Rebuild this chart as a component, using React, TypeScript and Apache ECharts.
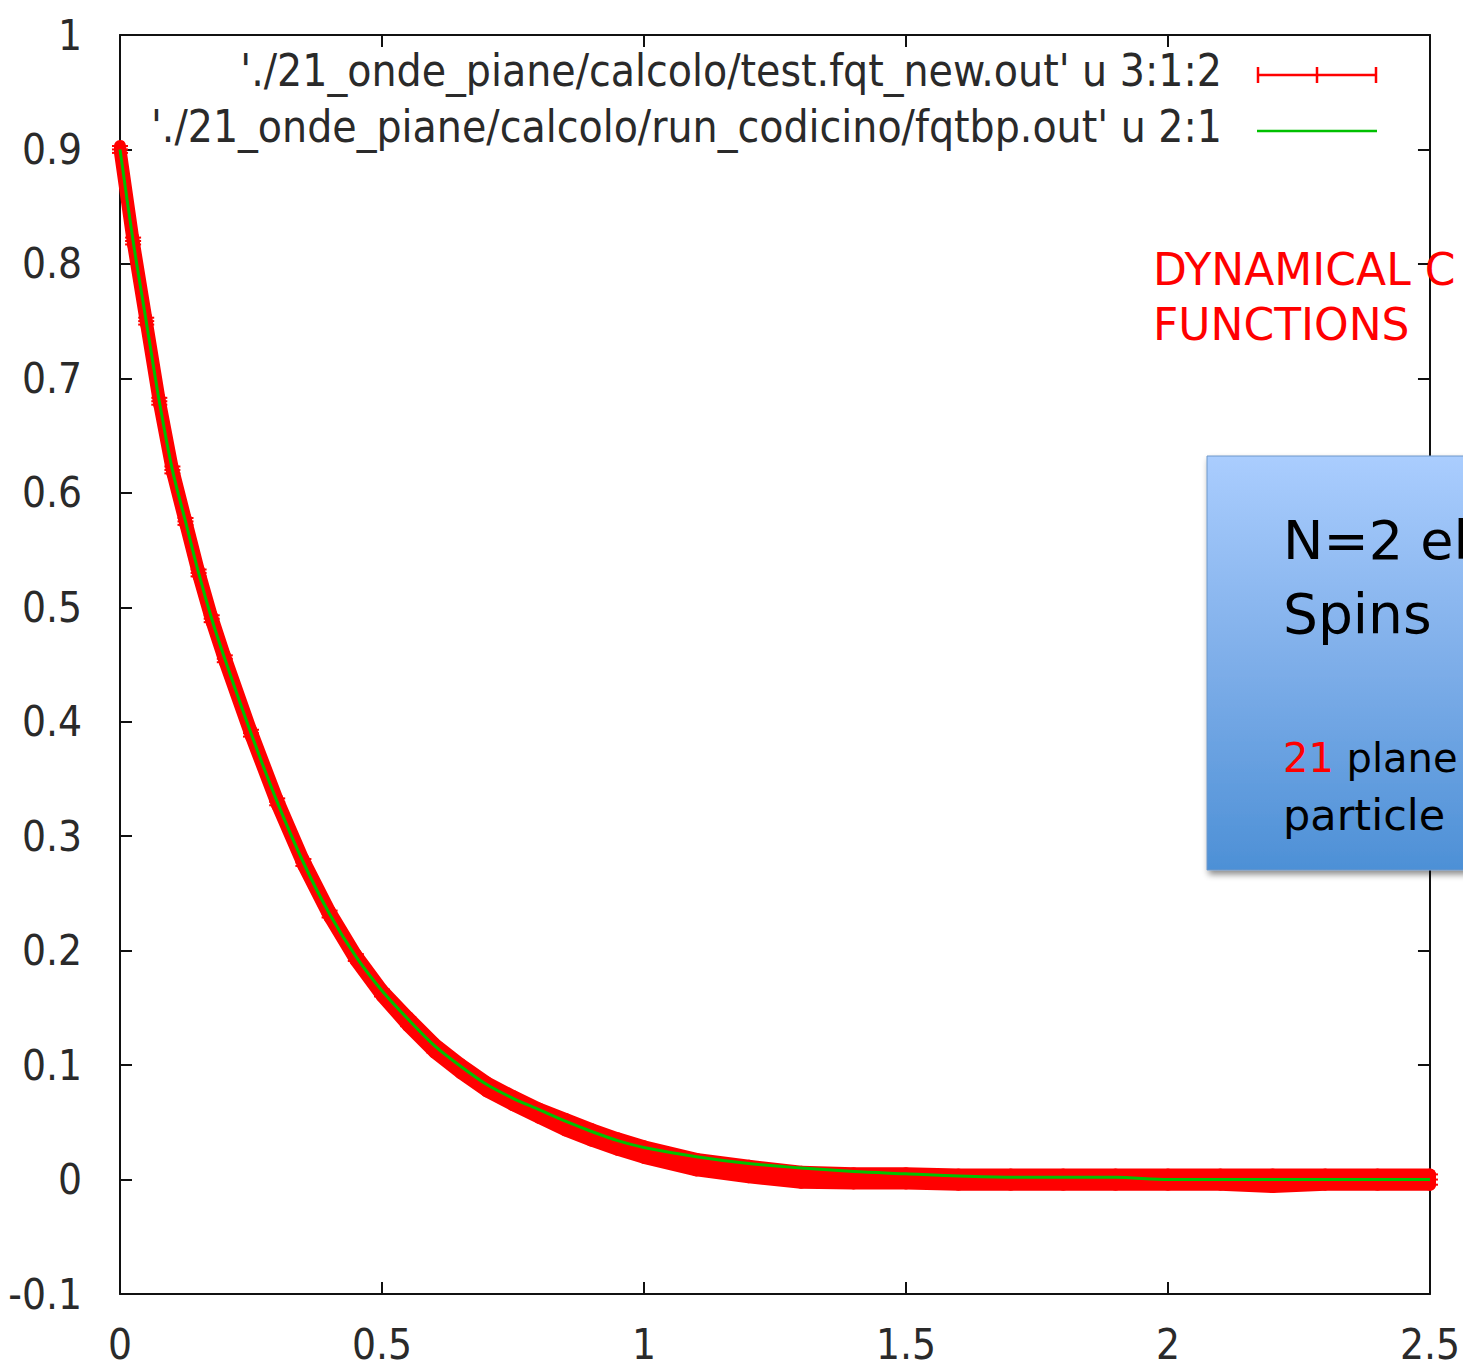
import React, { useEffect, useRef } from "react";
import * as echarts from "echarts";

// ---- data ----
const xTickValues = [0, 0.5, 1, 1.5, 2, 2.5];

const greenX = [0, 0.025, 0.05, 0.075, 0.1, 0.125, 0.15, 0.175, 0.2, 0.25, 0.3, 0.35, 0.4, 0.45, 0.5, 0.55, 0.6, 0.65, 0.7, 0.75, 0.8, 0.85, 0.9, 0.95, 1.0, 1.1, 1.2, 1.3, 1.4, 1.5, 1.6, 1.7, 1.8, 1.9, 2.0, 2.1, 2.2, 2.3, 2.4, 2.5];
const greenY = [0.9, 0.82, 0.75, 0.68, 0.62, 0.575, 0.53, 0.49, 0.455, 0.39, 0.33, 0.277, 0.232, 0.195, 0.165, 0.14, 0.117, 0.099, 0.083, 0.071, 0.061, 0.051, 0.042, 0.034, 0.028, 0.02, 0.014, 0.01, 0.007, 0.005, 0.003, 0.002, 0.002, 0.002, 0.0, 0.0, 0.0, 0.0, 0.0, 0.0];

const redX = [0, 0.025, 0.05, 0.075, 0.1, 0.125, 0.15, 0.175, 0.2, 0.25, 0.3, 0.35, 0.4, 0.45, 0.5, 0.55, 0.6, 0.65, 0.7, 0.75, 0.8, 0.85, 0.9, 0.95, 1.0, 1.1, 1.2, 1.3, 1.4, 1.5, 1.6, 1.7, 1.8, 1.9, 2.0, 2.1, 2.2, 2.3, 2.4, 2.5];
const redY = [0.9, 0.82, 0.75, 0.68, 0.62, 0.575, 0.53, 0.49, 0.455, 0.39, 0.33, 0.277, 0.232, 0.194, 0.163, 0.138, 0.115, 0.097, 0.081, 0.069, 0.058, 0.048, 0.039, 0.031, 0.024, 0.013, 0.007, 0.002, 0.001, 0.001, 0.0, 0.0, 0.0, 0.0, 0.0, 0.0, -0.001, 0.0, 0.0, 0.0];
const redErr = [0.003, 0.003, 0.003, 0.003, 0.003, 0.003, 0.003, 0.003, 0.003, 0.003, 0.003, 0.003, 0.003, 0.003, 0.003, 0.004, 0.004, 0.004, 0.004, 0.004, 0.004, 0.005, 0.005, 0.005, 0.005, 0.005, 0.005, 0.0048, 0.0045, 0.0045, 0.0045, 0.0045, 0.0045, 0.0045, 0.0045, 0.0045, 0.0055, 0.0045, 0.0045, 0.0045];

const legendLabels = [
  "'./21_onde_piane/calcolo/test.fqt_new.out' u 3:1:2",
  "'./21_onde_piane/calcolo/run_codicino/fqtbp.out' u 2:1",
];

const RED = "#ff0000";
const GREEN = "#00c000";
const TICK_FONT = '"DejaVu Sans Condensed", "DejaVu Sans", sans-serif';
const NOTE_FONT = '"DejaVu Sans", sans-serif';
const TEXT_COLOR = "#2a2a2a";

export default function App() {
  const ref = useRef<HTMLDivElement>(null);

  useEffect(() => {
    if (!ref.current) return;
    const chart = echarts.init(ref.current, undefined, { renderer: "svg" });

    const fmt = (v: number) => String(parseFloat(v.toFixed(2)));
    const axisLine = { show: true, onZero: false, lineStyle: { color: "#111", width: 2 } };
    const axisTick = { show: true, inside: true, length: 12, lineStyle: { color: "#111", width: 2 } };

    const redData = redX.map((x, i) => [x, redY[i], redErr[i]]);

    const option: any = {
      animation: false,
      backgroundColor: "#ffffff",
      grid: { left: 120, right: 33, top: 35, bottom: 73, containLabel: false },
      xAxis: [
        {
          type: "value",
          min: 0,
          max: 2.5,
          interval: 0.5,
          position: "bottom",
          axisLine,
          axisTick,
          splitLine: { show: false },
          axisLabel: {
            fontSize: 42,
            color: TEXT_COLOR,
            fontFamily: TICK_FONT,
            margin: 29,
            formatter: fmt,
            showMinLabel: true,
            showMaxLabel: true,
          },
        },
        {
          type: "value",
          min: 0,
          max: 2.5,
          interval: 0.5,
          position: "top",
          axisLine,
          axisTick,
          splitLine: { show: false },
          axisLabel: { show: false },
        },
      ],
      yAxis: [
        {
          type: "value",
          min: -0.1,
          max: 1,
          interval: 0.1,
          position: "left",
          axisLine,
          axisTick,
          splitLine: { show: false },
          axisLabel: {
            fontSize: 42,
            color: TEXT_COLOR,
            fontFamily: TICK_FONT,
            margin: 38,
            padding: [0, 0, 9, 0],
            formatter: fmt,
          },
        },
        {
          type: "value",
          min: -0.1,
          max: 1,
          interval: 0.1,
          position: "right",
          axisLine,
          axisTick,
          splitLine: { show: false },
          axisLabel: { show: false },
        },
      ],
      series: [
        {
          name: legendLabels[0],
          type: "custom",
          xAxisIndex: 0,
          yAxisIndex: 0,
          z: 2,
          encode: { x: 0, y: 1 },
          data: redData,
          renderItem: (params: any, api: any) => {
            const i = params.dataIndex;
            const x0 = api.value(0);
            const y0 = api.value(1);
            const e0 = api.value(2);
            const j = i < redX.length - 1 ? i + 1 : i;
            const x1 = redX[j];
            const y1 = redY[j];
            const e1 = redErr[j];
            const a = api.coord([x0, y0 + e0]);
            const b = api.coord([x1, y1 + e1]);
            const c = api.coord([x1, y1 - e1]);
            const d = api.coord([x0, y0 - e0]);
            const p = api.coord([x0, y0]);
            const top = api.coord([x0, y0 + e0]);
            const bot = api.coord([x0, y0 - e0]);
            return {
              type: "group",
              children: [
                {
                  type: "polygon",
                  shape: { points: [a, b, c, d] },
                  style: { fill: RED, stroke: RED, lineWidth: 12, lineJoin: "round" },
                },
                // error bar with caps
                {
                  type: "line",
                  shape: { x1: top[0], y1: top[1], x2: bot[0], y2: bot[1] },
                  style: { stroke: RED, lineWidth: 2 },
                },
                {
                  type: "line",
                  shape: { x1: top[0] - 8, y1: top[1], x2: top[0] + 8, y2: top[1] },
                  style: { stroke: RED, lineWidth: 2 },
                },
                {
                  type: "line",
                  shape: { x1: bot[0] - 8, y1: bot[1], x2: bot[0] + 8, y2: bot[1] },
                  style: { stroke: RED, lineWidth: 2 },
                },
                // point marker "+"
                {
                  type: "line",
                  shape: { x1: p[0] - 8, y1: p[1], x2: p[0] + 8, y2: p[1] },
                  style: { stroke: RED, lineWidth: 2 },
                },
                {
                  type: "line",
                  shape: { x1: p[0], y1: p[1] - 8, x2: p[0], y2: p[1] + 8 },
                  style: { stroke: RED, lineWidth: 2 },
                },
              ],
            };
          },
        },
        {
          name: legendLabels[1],
          type: "line",
          xAxisIndex: 0,
          yAxisIndex: 0,
          z: 3,
          data: greenX.map((x, i) => [x, greenY[i]]),
          showSymbol: false,
          symbol: "none",
          smooth: 0.3,
          lineStyle: { color: GREEN, width: 3 },
        },
      ],
      graphic: [
        // legend (gnuplot style: right-aligned text, sample at right)
        {
          type: "text",
          z: 10,
          style: {
            x: 1222,
            y: 70,
            text: legendLabels[0],
            align: "right",
            verticalAlign: "middle",
            fontSize: 44,
            fontFamily: TICK_FONT,
            fill: TEXT_COLOR,
          },
        },
        {
          type: "text",
          z: 10,
          style: {
            x: 1222,
            y: 126,
            text: legendLabels[1],
            align: "right",
            verticalAlign: "middle",
            fontSize: 44,
            fontFamily: TICK_FONT,
            fill: TEXT_COLOR,
          },
        },
        { type: "line", z: 10, shape: { x1: 1257, y1: 75, x2: 1377, y2: 75 }, style: { stroke: RED, lineWidth: 2.5 } },
        { type: "line", z: 10, shape: { x1: 1258, y1: 67, x2: 1258, y2: 83 }, style: { stroke: RED, lineWidth: 2.5 } },
        { type: "line", z: 10, shape: { x1: 1317, y1: 67, x2: 1317, y2: 83 }, style: { stroke: RED, lineWidth: 2.5 } },
        { type: "line", z: 10, shape: { x1: 1376, y1: 67, x2: 1376, y2: 83 }, style: { stroke: RED, lineWidth: 2.5 } },
        { type: "line", z: 10, shape: { x1: 1257, y1: 131, x2: 1377, y2: 131 }, style: { stroke: GREEN, lineWidth: 2.5 } },
        // red annotation
        {
          type: "text",
          z: 10,
          style: {
            x: 1153,
            y: 291,
            text: "DYNAMICAL C",
            verticalAlign: "bottom",
            fontSize: 44,
            fontFamily: NOTE_FONT,
            fill: RED,
          },
        },
        {
          type: "text",
          z: 10,
          style: {
            x: 1153,
            y: 346,
            text: "FUNCTIONS",
            verticalAlign: "bottom",
            fontSize: 44,
            fontFamily: NOTE_FONT,
            fill: RED,
          },
        },
        // blue box
        {
          type: "rect",
          z: 20,
          shape: { x: 1207, y: 456, width: 300, height: 414 },
          style: {
            fill: new echarts.graphic.LinearGradient(0, 0, 0, 1, [
              { offset: 0, color: "#aacdfe" },
              { offset: 0.5, color: "#7eaee9" },
              { offset: 1, color: "#4d90d6" },
            ]),
            stroke: "#6f98c9",
            lineWidth: 1,
            shadowBlur: 6,
            shadowOffsetX: 2,
            shadowOffsetY: 4,
            shadowColor: "rgba(0,0,0,0.45)",
          },
        },
        {
          type: "text",
          z: 21,
          style: {
            x: 1283,
            y: 540,
            text: "N=2 el",
            verticalAlign: "middle",
            fontSize: 54,
            fontFamily: NOTE_FONT,
            fill: "#000",
          },
        },
        {
          type: "text",
          z: 21,
          style: {
            x: 1283,
            y: 614,
            text: "Spins",
            verticalAlign: "middle",
            fontSize: 55,
            fontFamily: NOTE_FONT,
            fill: "#000",
          },
        },
        {
          type: "text",
          z: 21,
          style: {
            x: 1283,
            y: 758,
            text: "{r|21} plane",
            verticalAlign: "middle",
            fontSize: 40,
            fontFamily: NOTE_FONT,
            fill: "#000",
            rich: {
              r: { fill: RED, fontSize: 40, fontFamily: NOTE_FONT },
            },
          },
        },
        {
          type: "text",
          z: 21,
          style: {
            x: 1283,
            y: 815,
            text: "particle",
            verticalAlign: "middle",
            fontSize: 43,
            fontFamily: NOTE_FONT,
            fill: "#000",
          },
        },
      ],
    };

    chart.setOption(option);
    return () => {
      chart.dispose();
    };
  }, []);

  return (
    <div
      ref={ref}
      style={{ position: "absolute", left: 0, top: 0, width: 1463, height: 1367, overflow: "hidden" }}
    />
  );
}
